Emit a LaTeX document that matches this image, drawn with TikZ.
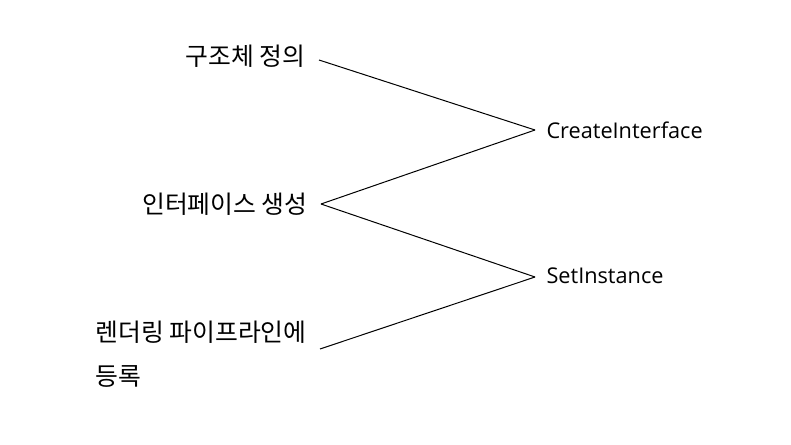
\documentclass[tikz,border=0pt]{standalone}
\usepackage{fontspec}
\setmainfont{Open Sans}
\newfontfamily\kofont{Noto Sans CJK KR}
\usetikzlibrary{positioning}

\begin{document}
\begin{tikzpicture}[x=1pt,y=-1pt,line width=1pt,
  stage/.style={anchor=east,inner xsep=13pt,inner ysep=2pt,font=\kofont\fontsize{24.8}{44}\selectfont},
  call/.style={anchor=west,inner xsep=11pt,inner ysep=2pt,font=\fontsize{21.7}{26}\selectfont}]

  \useasboundingbox (0,0) rectangle (791,444);

  \node[stage] (struct) at (319,56)  {구조체 정의};
  \node[stage] (iface)  at (321,204) {인터페이스 생성};
  \node[stage,align=left] (regist) at (320,354) {렌더링 파이프라인에\\등록};

  \node[call] (create) at (535,130) {CreateInterface};
  \node[call] (setinst) at (535,276) {SetInstance};

  \path ([yshift=-4pt]struct.east) edge (create.west)
        (create.west) edge (iface.east)
        (iface.east)  edge ([yshift=-1pt]setinst.west)
        ([yshift=-1pt]setinst.west) edge ([yshift=5pt]regist.east);
\end{tikzpicture}
\end{document}
